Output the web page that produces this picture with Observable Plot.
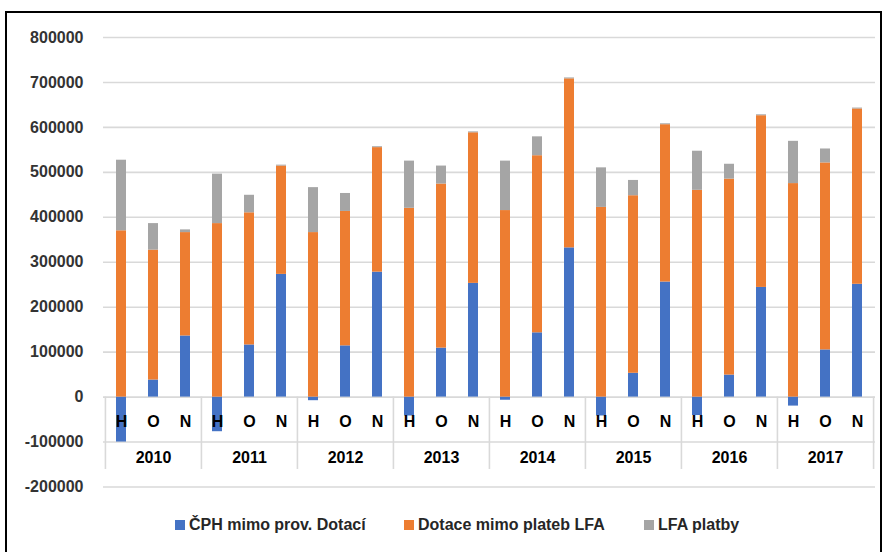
<!DOCTYPE html>
<html>
<head>
<meta charset="utf-8">
<script src="https://cdn.jsdelivr.net/npm/d3@7"></script>
<script src="https://cdn.jsdelivr.net/npm/@observablehq/plot@0.6"></script>
<style>
  html, body { margin: 0; padding: 0; background: #fff; overflow: hidden; width: 889px; height: 552px; }
  #wrap { position: relative; width: 889px; height: 552px; }
  #border { position: absolute; left: 5px; top: 11px; width: 877px; height: 600px; border: 2px solid #000; box-sizing: border-box; }
  #chart { position: absolute; left: 0; top: 0; }
  .leg { position: absolute; top: 516px; font: bold 16px "Liberation Sans", Arial, sans-serif; color: #262626; display: flex; align-items: center; white-space: nowrap; }
  .sw { width: 10px; height: 10px; margin-right: 4px; }
</style>
</head>
<body>
<div id="wrap">
  <div id="border"></div>
  <div id="chart"></div>
  <div class="leg" style="left:175px"><span class="sw" style="background:#4472C4"></span>ČPH mimo prov. Dotací</div>
  <div class="leg" style="left:404px"><span class="sw" style="background:#ED7D31"></span>Dotace mimo plateb LFA</div>
  <div class="leg" style="left:644px"><span class="sw" style="background:#A5A5A5"></span>LFA platby</div>
</div>
<script>
const years = [2010, 2011, 2012, 2013, 2014, 2015, 2016, 2017];
const types = ["H", "O", "N"];
const seriesNames = ["ČPH mimo prov. Dotací", "Dotace mimo plateb LFA", "LFA platby"];
const seriesColors = ["#4472C4", "#ED7D31", "#A5A5A5"];
const yTicks = [-200000, -100000, 0, 100000, 200000, 300000, 400000, 500000, 600000, 700000, 800000];

// values per year: [H, O, N]
const cph = [
  [-100000, 38000, 136000],
  [-77000, 116000, 273000],
  [-8000, 114000, 278000],
  [-42000, 109000, 253000],
  [-7000, 143000, 332000],
  [-42000, 53000, 256000],
  [-41000, 49000, 244000],
  [-20000, 105000, 251000]
];
const dotace = [
  [370000, 289000, 230000],
  [386000, 294000, 241000],
  [366000, 299000, 277000],
  [420000, 365000, 335000],
  [415000, 394000, 376000],
  [422000, 395000, 350000],
  [460000, 436000, 382000],
  [475000, 416000, 390000]
];
const lfa = [
  [157000, 59000, 6000],
  [110000, 39000, 2000],
  [100000, 40000, 2000],
  [105000, 40000, 2000],
  [110000, 42000, 2000],
  [88000, 34000, 2000],
  [87000, 33000, 2000],
  [94000, 31000, 2000]
];

const seriesValues = [cph, dotace, lfa];
const keys = [];
const cats = [];
years.forEach(y => types.forEach(t => { keys.push(`${y}-${t}`); cats.push({key: `${y}-${t}`, type: t, year: y}); }));

const rows = [];
seriesNames.forEach((s, si) => {
  years.forEach((y, yi) => types.forEach((t, ti) => {
    rows.push({key: `${y}-${t}`, series: s, value: seriesValues[si][yi][ti]});
  }));
});

const W = 889, H = 500, mL = 103, mR = 14, mT = 37, mB = 13.5;
const step = (W - mL - mR) / keys.length;
const barW = 10;
const pad = 1 - barW / step;
const font = '"Liberation Sans", Arial, sans-serif';

const plot = Plot.plot({
  width: W,
  height: H,
  marginLeft: mL,
  marginRight: mR,
  marginTop: mT,
  marginBottom: mB,
  style: {fontFamily: font, fontSize: "16px", fontWeight: "bold", color: "#333", background: "transparent"},
  x: {type: "band", domain: keys, paddingInner: pad, paddingOuter: pad / 2, axis: null},
  y: {domain: [-200000, 800000], axis: null},
  color: {domain: seriesNames, range: seriesColors},
  marks: [
    Plot.gridY(yTicks, {stroke: "#d9d9d9", strokeOpacity: 1, strokeWidth: 1.6}),
    Plot.ruleX(years, {x: d => `${d}-H`, dx: -step / 2, y1: 0, y2: -161000, stroke: "#d9d9d9", strokeWidth: 1.6}),
    Plot.ruleX([years[years.length - 1]], {x: d => `${d}-N`, dx: step / 2, y1: 0, y2: -161000, stroke: "#d9d9d9", strokeWidth: 1.6}),
    Plot.barY(rows, Plot.stackY({x: "key", y: "value", fill: "series", order: null})),
    Plot.axisY(yTicks, {tickSize: 0, tickPadding: 20, tickFormat: d => String(d), fill: "#333", fontSize: 16, fontWeight: "bold", label: null}),
    Plot.text(cats, {x: "key", text: "type", frameAnchor: "bottom", dy: -65.5, fill: "#000", fontSize: 16, fontWeight: "bold", lineAnchor: "middle"}),
    Plot.text(years, {x: d => `${d}-O`, text: d => String(d), frameAnchor: "bottom", dy: -29.5, fill: "#000", fontSize: 16, fontWeight: "bold", lineAnchor: "middle"})
  ]
});
document.getElementById("chart").appendChild(plot);
</script>
</body>
</html>
